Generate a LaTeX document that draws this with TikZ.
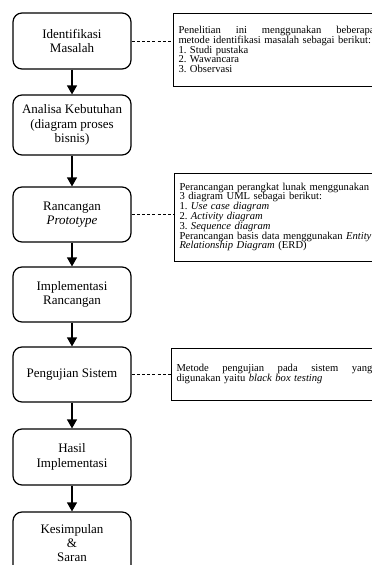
\documentclass[tikz,border=0pt]{standalone}
\usepackage{fontspec}
\setmainfont{Liberation Serif}
\usetikzlibrary{arrows.meta,calc}
\begin{document}
\frenchspacing
\begin{tikzpicture}[x=1pt,y=-1pt,
  flow/.style={draw=black, line width=1.2pt, rounded corners=9pt, minimum width=118pt,
    align=center, inner sep=2pt, font=\fontsize{13}{14.3}\selectfont},
  note/.style={draw=black, line width=1pt, anchor=west, text width=196pt, inner xsep=5pt,
    align=left, font=\fontsize{10.6}{9.8}\selectfont},
  arr/.style={line width=1.2pt, -{Triangle[length=9pt,width=10pt]}},
  dashlink/.style={line width=0.9pt, dash pattern=on 3pt off 2.2pt}
]
\useasboundingbox (0,0) rectangle (372,565);
\clip (0,0) rectangle (372,565);
\fill[white] (0,0) rectangle (372,565);

\node[flow, minimum height=56pt] (b1) at (72,41) {Identifikasi\\Masalah};
\node[flow, minimum height=60pt] (b2) at (72,125) {Analisa Kebutuhan\\(diagram proses\\bisnis)};
\node[flow, minimum height=55pt] (b3) at (72,214.5) {Rancangan\\\textit{Prototype}};
\node[flow, minimum height=55pt] (b4) at (72,294.5) {Implementasi\\Rancangan};
\node[flow, minimum height=55pt] (b5) at (72,374.5) {Pengujian Sistem};
\node[flow, minimum height=56pt] (b6) at (72,457) {Hasil\\Implementasi};
\node[flow, minimum height=62pt] (b7) at (72,543) {Kesimpulan\\\&\\Saran};

\draw[arr] (b1) -- (b2);
\draw[arr] (b2) -- (b3);
\draw[arr] (b3) -- (b4);
\draw[arr] (b4) -- (b5);
\draw[arr] (b5) -- (b6);
\draw[arr] (b6) -- (b7);

\node[note, minimum height=73pt] (nA) at (173,49.5) {Penelitian\hfill ini\hfill menggunakan\hfill beberapa\\
metode identifikasi masalah sebagai berikut:\\
1. Studi pustaka\\
2. Wawancara\\
3. Observasi};

\node[note, minimum height=88pt] (nB) at (174,217) {Perancangan perangkat lunak menggunakan\\
3 diagram UML sebagai berikut:\\
1. \textit{Use case diagram}\\
2. \textit{Activity diagram}\\
3. \textit{Sequence diagram}\\
Perancangan basis data menggunakan \textit{Entity}\\
\textit{Relationship Diagram} (ERD)};

\node[note, minimum height=52pt] (nC) at (171,374) {Metode\hfill pengujian\hfill pada\hfill sistem\hfill yang\\
digunakan yaitu \textit{black box testing}};

\draw[dashlink] (b1.east) -- (b1.east -| nA.west);
\draw[dashlink] (b3.east) -- (b3.east -| nB.west);
\draw[dashlink] (b5.east) -- (b5.east -| nC.west);
\end{tikzpicture}
\end{document}
